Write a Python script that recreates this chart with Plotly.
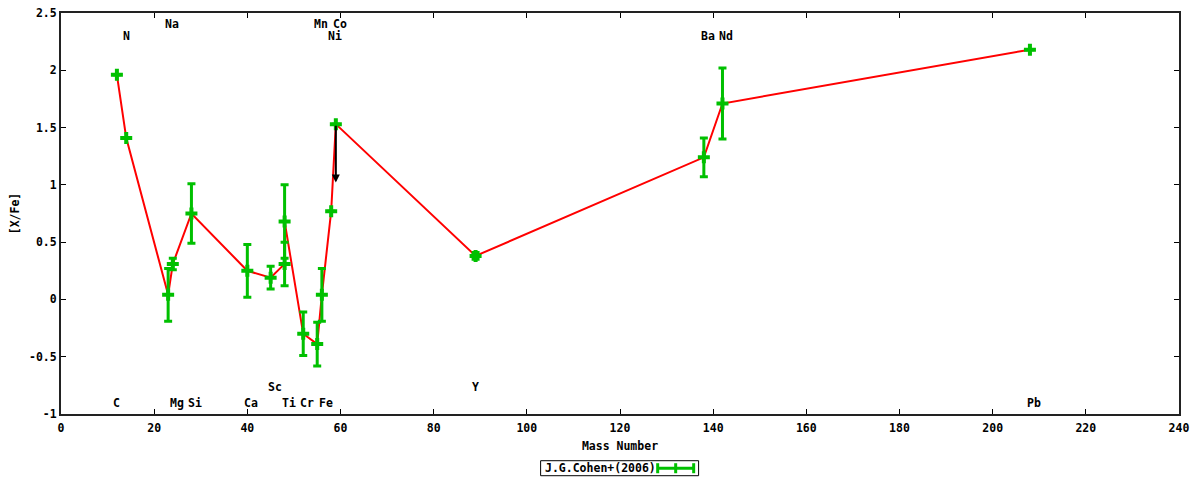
import plotly.graph_objects as go

# [X/Fe] abundances vs mass number, J.G.Cohen+(2006)
elements = ['C', 'N', 'Na', 'Mg', 'Si', 'Ca', 'Sc', 'Ti', 'Ti', 'Cr', 'Mn', 'Fe', 'Ni', 'Co', 'Y', 'Ba', 'Nd', 'Pb']
mass = [12, 14, 23, 24, 28, 40, 45, 48, 48, 52, 55, 56, 58, 59, 89, 138, 142, 208]
x_fe = [1.96, 1.41, 0.04, 0.31, 0.75, 0.25, 0.19, 0.31, 0.68, -0.30, -0.39, 0.04, 0.77, 1.53, 0.38, 1.24, 1.71, 2.18]
x_fe_err = [0, 0, 0.23, 0.05, 0.26, 0.23, 0.10, 0.19, 0.32, 0.19, 0.19, 0.23, 0, 0, 0.03, 0.17, 0.31, 0]

# Co is an upper limit
limit_mass = 59
limit_from = 1.53
limit_to = 1.02

# element labels drawn on the plot: name, mass, row
label_names = ['N', 'Na', 'Mn', 'Co', 'Ni', 'Ba', 'Nd', 'C', 'Mg', 'Si', 'Ca', 'Sc', 'Ti', 'Cr', 'Fe', 'Y', 'Pb']
label_mass = [14, 23, 55, 59, 58, 138, 142, 12, 24, 28, 40, 45, 48, 52, 56, 89, 208]
label_row = [2.3, 2.4, 2.4, 2.4, 2.3, 2.3, 2.3, -0.9, -0.9, -0.9, -0.9, -0.76, -0.9, -0.9, -0.9, -0.76, -0.9]

x_ticks = list(range(0, 241, 20))
y_ticks = [-1, -0.5, 0, 0.5, 1, 1.5, 2, 2.5]
y_tick_labels = ['-1', '-0.5', '0', '0.5', '1', '1.5', '2', '2.5']

GREEN = '#00c000'
FONT = dict(family='DejaVu Sans Mono', size=11.5, color='black', weight='bold')

fig = go.Figure()

fig.add_trace(go.Scatter(
	x=mass, y=x_fe, mode='lines',
	line=dict(color='#ff0000', width=2),
	hoverinfo='skip', showlegend=False,
))

fig.add_trace(go.Scatter(
	x=mass, y=x_fe, mode='markers',
	marker=dict(symbol='cross', size=10, color=GREEN, line=dict(width=0)),
	error_y=dict(type='data', array=x_fe_err, visible=True, color=GREEN, thickness=3, width=4),
	name='J.G.Cohen+(2006)', showlegend=False,
))

fig.add_annotation(
	x=limit_mass, y=limit_to, ax=limit_mass, ay=limit_from,
	xref='x', yref='y', axref='x', ayref='y',
	showarrow=True, arrowhead=2, arrowsize=0.8, arrowwidth=2, arrowcolor='black', text='',
)

for name, m, row in zip(label_names, label_mass, label_row):
	fig.add_annotation(
		x=m, y=row, text=name, showarrow=False,
		xshift=4 if len(name) > 1 else 0,
		font=FONT,
	)

# hand-drawn gnuplot style key
fig.add_shape(type='rect', xref='paper', yref='paper', x0=0.4290, x1=0.5703, y0=-0.1165, y1=-0.1539,
	line=dict(color='black', width=1), fillcolor='white')
fig.add_annotation(xref='paper', yref='paper', x=0.4308, y=-0.1352, xanchor='left', yanchor='middle',
	text='J.G.Cohen+(2006)', showarrow=False, font=FONT)
fig.add_shape(type='line', xref='paper', yref='paper', x0=0.5337, x1=0.5659, y0=-0.1352, y1=-0.1352,
	line=dict(color=GREEN, width=3))
for px in [0.5337, 0.5498, 0.5659]:
	fig.add_shape(type='line', xref='paper', yref='paper', x0=px, x1=px, y0=-0.1227, y1=-0.1477,
		line=dict(color=GREEN, width=3))

# page body has an 8px margin, so keep the figure inside the 1200x480 window
fig.update_layout(
	width=1184, height=470,
	margin=dict(l=53, r=13, t=5, b=64),
	plot_bgcolor='white', paper_bgcolor='white',
	font=FONT,
	showlegend=False,
)
fig.update_xaxes(
	range=[0, 240], tickvals=x_ticks,
	showgrid=False, zeroline=False, automargin=False,
	showline=True, linecolor='#222222', linewidth=2, mirror='ticks',
	ticks='inside', ticklen=5, tickcolor='black',
	tickfont=FONT, ticklabelstandoff=2, ticklabeloverflow='allow',
	title=dict(text='Mass Number', font=FONT, standoff=8),
)
fig.update_yaxes(
	range=[-1, 2.5], tickvals=y_ticks, ticktext=y_tick_labels,
	showgrid=False, zeroline=False, automargin=False,
	showline=True, linecolor='#222222', linewidth=2, mirror='ticks',
	ticks='inside', ticklen=5, tickcolor='black',
	tickfont=FONT, ticklabelstandoff=0, ticklabeloverflow='allow',
	title=dict(text='[X/Fe]', font=FONT, standoff=9),
)

fig.write_html('out.html')
